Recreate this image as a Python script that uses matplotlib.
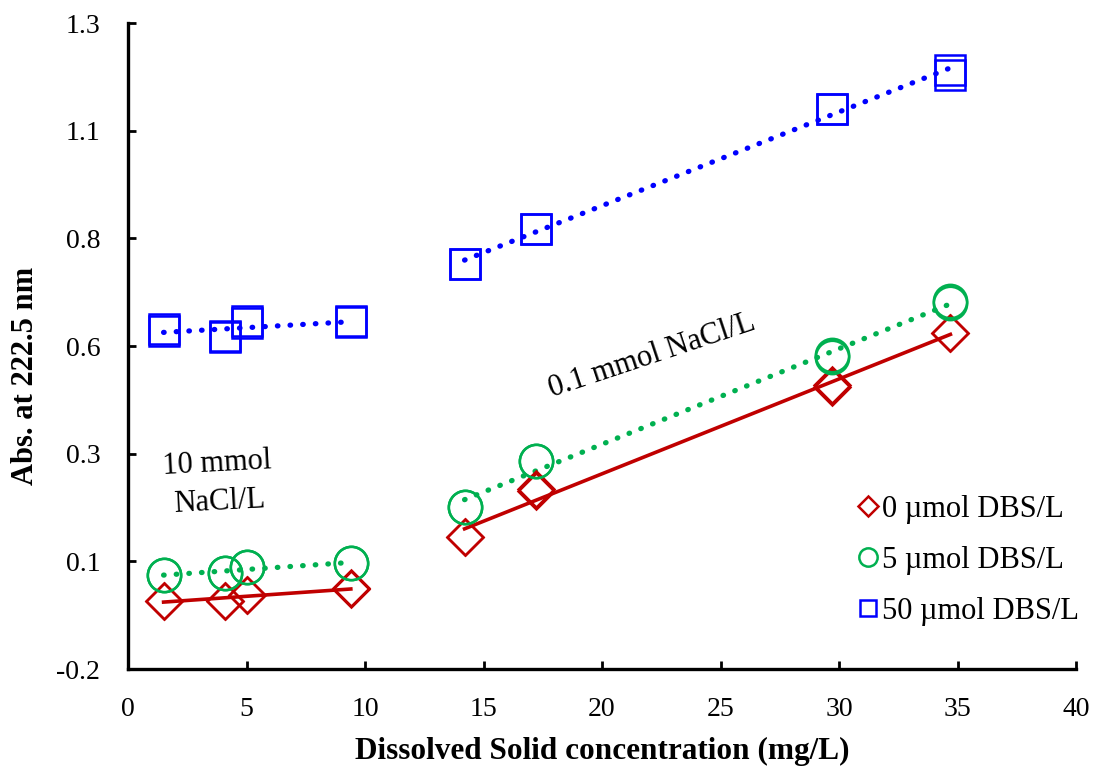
import numpy as np
import matplotlib
matplotlib.use("Agg")
import matplotlib.pyplot as plt

plt.rcParams['font.family'] = ['Liberation Serif', 'DejaVu Serif']

# Data (Dissolved solid concentration, mg/L) -- two replicate readings each
x_low = [1.5, 4.1, 5.0, 9.4]
x_high = [14.2, 17.2, 29.7, 34.7]

dbs0_low = [-0.042, -0.042, -0.028, -0.014]
dbs0_low_r2 = [-0.042, -0.041, -0.027, -0.013]
dbs0_high = [0.107, 0.213, 0.455, 0.580]
dbs0_high_r2 = [0.107, 0.219, 0.460, 0.581]

dbs5_low = [0.018, 0.023, 0.037, 0.046]
dbs5_low_r2 = [0.018, 0.023, 0.037, 0.047]
dbs5_high = [0.176, 0.283, 0.525, 0.650]
dbs5_high_r2 = [0.176, 0.283, 0.528, 0.655]

dbs50_low = [0.585, 0.573, 0.603, 0.605]
dbs50_low_r2 = [0.589, 0.570, 0.607, 0.609]
dbs50_high = [0.740, 0.822, 1.100, 1.179]
dbs50_high_r2 = [0.740, 0.822, 1.101, 1.190]

labels = ["0 \u00b5mol DBS/L", "5 \u00b5mol DBS/L", "50 \u00b5mol DBS/L"]
colors = ["#C00000", "#00B050", "#0000FF"]

fig = plt.figure(figsize=(11.01, 7.72), dpi=100)
ax = fig.add_axes([0.1163, 0.1334, 0.861, 0.8368])

series = [
    (dbs0_low, dbs0_low_r2, dbs0_high, dbs0_high_r2, 'D', 18, '-'),
    (dbs5_low, dbs5_low_r2, dbs5_high, dbs5_high_r2, 'o', 24, ':'),
    (dbs50_low, dbs50_low_r2, dbs50_high, dbs50_high_r2, 's', 21, ':'),
]

for (lo, lo2, hi, hi2, mk, ms, ls), lab, c in zip(series, labels, colors):
    xs = x_low + x_high
    style = dict(linestyle='none', marker=mk, markersize=ms,
                 markerfacecolor='none', markeredgecolor=c,
                 markeredgewidth=1.8, zorder=3)
    ax.plot(xs, lo + hi, label=lab, **style)
    ax.plot(xs, lo2 + hi2, **style)
    for xx, y1, y2 in ((x_low, lo, lo2), (x_high, hi, hi2)):
        yy = (np.array(y1) + np.array(y2)) / 2
        p = np.polyfit(xx, yy, 1)
        xl = np.array([min(xx), max(xx)])
        if ls == '-':
            ax.plot(xl, np.polyval(p, xl), color=c, lw=2.6, zorder=2)
        else:
            ax.plot(xl, np.polyval(p, xl), color=c, lw=3.8,
                    linestyle=(0, (0.1, 2.3)), dash_capstyle='round', zorder=2)

ax.set_xlim(0, 40)
ax.set_ylim(-0.2, 1.3)
ax.set_xticks(np.arange(0, 41, 5))
ax.set_yticks(np.arange(-0.2, 1.31, 0.25))
ax.yaxis.set_major_formatter(matplotlib.ticker.FuncFormatter(
    lambda v, pos: "%.1f" % (np.floor(v * 10 + 0.5 + 1e-9) / 10)))
ax.tick_params(direction='in', length=6, width=2, labelsize=20)
ax.tick_params(axis='y', pad=20)
ax.tick_params(axis='x', pad=20)
for s in ['top', 'right']:
    ax.spines[s].set_visible(False)
for s in ['left', 'bottom']:
    ax.spines[s].set_linewidth(2.4)

ax.set_xlabel("Dissolved Solid concentration (mg/L)", fontsize=22.5,
              fontweight='bold', labelpad=11)
ax.set_ylabel("Abs. at 222.5 nm", fontsize=22, fontweight='bold')
ax.yaxis.set_label_coords(-0.093, 0.454)

ax.text(3.8, 0.232, "10 mmol\nNaCl/L", fontsize=22, ha='center', va='center',
        linespacing=1.4, rotation=3)
ax.text(22.1, 0.527, "0.1 mmol NaCl/L", fontsize=22, ha='center', va='center',
        rotation=18.4, rotation_mode='anchor')

leg = ax.legend(loc='lower right', bbox_to_anchor=(1.022, 0.038), frameon=False,
                fontsize=22, markerscale=0.55, handlelength=0.5,
                handletextpad=0.2, labelspacing=0.72, borderaxespad=0.2)

fig.savefig("out.png", dpi=100)
